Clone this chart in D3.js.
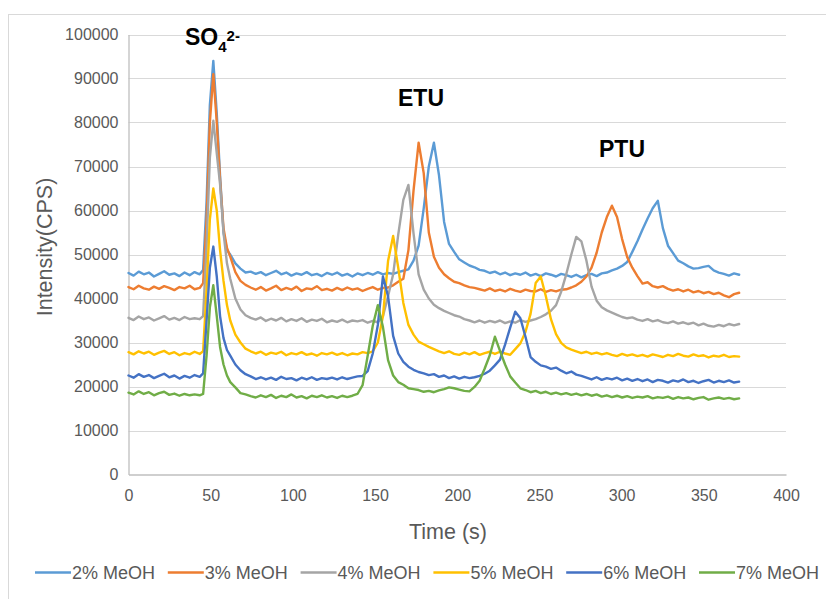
<!DOCTYPE html>
<html>
<head>
<meta charset="utf-8">
<script src="https://cdn.jsdelivr.net/npm/d3@7"></script>
<style>
  body { margin: 0; background: #fff; }
  svg { display: block; font-family: "Liberation Sans", Arial, sans-serif; }
</style>
</head>
<body>
<svg id="chart" width="826" height="599"></svg>
<script>
// sample times (s)
const time = [
  0, 3.1, 6.2, 9.3, 12.4, 15.5, 18.6, 21.7, 24.8, 27.9, 31.0, 34.1, 37.2, 40.2, 43.3,
  45.4, 47.5, 49.5, 51.6, 53.7, 55.7, 57.8, 59.9, 61.9,
  65.0, 68.1, 71.2, 74.3, 77.4, 80.5, 83.6, 86.7, 89.8, 92.9, 96.0, 99.1, 102.2, 105.3, 108.4, 111.5, 114.6, 117.6, 120.7, 123.8,
  126.9, 130.0, 133.1, 136.2, 139.3, 142.4, 145.5, 148.6, 151.7, 154.8, 157.9, 161.0, 164.1, 167.2, 170.3, 173.4, 176.5, 179.6, 182.7, 185.8,
  188.9, 192.0, 195.0, 198.1, 201.2, 204.3, 207.4, 210.5, 213.6, 216.7, 219.8, 222.9, 226.0, 229.1, 232.2, 235.3, 238.4, 241.5, 244.6, 247.7,
  250.8, 253.9, 257.0, 260.1, 263.2, 266.3, 269.4, 272.4, 275.5, 278.6, 281.7, 284.8, 287.9, 291.0, 294.1, 297.2, 300.3, 303.4, 306.5, 309.6,
  312.7, 315.8, 318.9, 322.0, 325.1, 328.2, 331.3, 334.4, 337.5, 340.6, 343.7, 346.8, 349.8, 352.9, 356.0, 359.1, 362.2, 365.3, 368.4, 371.5
];

// intensities, in thousands of CPS
const meoh2 = [
  45.8, 45.2, 46.1, 45.5, 45.9, 45.0, 45.6, 46.2, 45.4, 45.7, 45.1, 45.9, 45.3, 46.0, 45.5,
  46.5, 62.0, 84.0, 94.0, 82.0, 68.0, 55.0, 51.0, 50.0,
  48.0, 46.8, 45.9, 46.1, 45.6, 46.0, 45.3, 45.8, 46.3, 45.5, 45.9, 45.2, 45.7, 45.4, 46.0, 45.3, 45.6, 45.1, 45.8, 45.4,
  45.9, 45.2, 45.6, 45.0, 45.7, 45.3, 45.8, 45.4, 46.0, 45.5, 45.8, 45.6, 46.0, 46.3, 46.6, 48.6, 52.0, 60.5, 70.0, 75.4,
  68.0, 57.4, 52.4, 50.6, 48.9, 48.2, 47.5, 47.1, 46.5, 46.3, 45.8, 46.1, 45.5, 45.9, 45.3, 45.7, 45.4, 45.9, 45.2, 45.6,
  45.1, 45.7, 45.4, 45.0, 45.6, 45.3, 44.9, 45.4, 44.8, 45.3, 45.6, 45.1, 45.7, 45.9, 46.4, 46.8, 47.4, 48.3, 50.6, 53.0,
  55.7, 58.2, 60.5, 62.2, 56.0, 52.0, 50.3, 48.6, 48.0, 47.3, 46.8, 46.9, 47.2, 47.4, 46.4, 45.9, 45.6, 45.2, 45.7, 45.4
];
const meoh3 = [
  42.6, 42.1, 42.9, 42.3, 42.0, 42.7, 42.2, 42.8, 42.4, 41.9, 42.6, 42.3, 42.9, 42.1, 42.4,
  43.5, 58.0, 80.0, 91.0, 80.0, 67.0, 56.0, 51.5, 49.5,
  46.0, 44.0, 43.1, 42.5, 42.0, 42.6, 41.8, 42.3, 42.9, 41.9, 42.4, 42.0, 42.7, 41.7, 42.3, 42.1, 42.8, 41.9, 42.2, 41.8,
  42.4, 41.9, 42.5, 42.0, 42.3, 41.7, 42.2, 42.6, 42.0, 42.4, 42.5, 43.0, 43.8, 44.5, 51.0, 64.5, 75.4, 68.5, 55.0, 49.5,
  47.0, 45.5, 44.6, 43.8, 43.5, 43.0, 42.6, 42.4, 42.1, 41.8, 42.3, 41.7, 42.0, 41.6, 42.2, 41.8, 41.5, 42.0, 41.7, 41.6,
  42.1, 41.5, 41.9, 41.6, 42.0, 42.1, 42.5, 43.0, 43.8, 45.0, 47.0, 50.4, 55.0, 58.5, 61.1, 58.5, 53.5, 49.4, 47.0, 45.1,
  43.4, 43.7, 42.8, 42.5, 42.8, 42.2, 41.8, 42.1, 41.6, 42.0, 41.4, 41.7, 41.2, 41.5, 41.0, 41.3, 40.7, 40.3, 41.0, 41.3
];
const meoh4 = [
  35.6, 35.1, 35.9, 35.3, 35.7, 35.0, 35.5, 36.0, 35.2, 35.6, 35.1, 35.8, 35.3, 35.5, 35.3,
  36.0, 52.0, 72.0, 80.4, 73.0, 66.0, 55.0, 48.0, 44.5,
  40.0, 37.5, 36.2, 35.6, 35.2, 35.7, 34.9, 35.4, 35.0, 35.6, 34.8, 35.3, 34.9, 35.5, 34.7, 35.2, 34.9, 35.4, 34.6, 35.0,
  34.7, 35.2, 34.6, 35.0, 34.8, 35.1, 34.5, 34.9, 34.6, 36.0, 40.5, 45.5, 54.5, 62.4, 65.8, 54.8, 45.5, 42.0, 40.0, 38.6,
  37.8, 37.2, 36.7, 36.2, 35.9, 35.3, 35.0, 34.6, 35.0, 34.5, 34.9, 34.6, 35.0, 34.4, 34.8, 34.5, 35.1, 34.7, 35.0, 35.3,
  35.8, 36.4, 37.2, 38.5, 41.5, 45.5, 50.0, 54.0, 53.0, 48.6, 42.7, 39.5, 38.0, 37.3, 36.8, 36.3, 35.8, 35.5, 35.7, 35.2,
  34.9, 35.3, 34.8, 35.1, 34.6, 34.4, 34.8, 34.3, 34.6, 34.2, 34.5, 33.9, 34.3, 33.8, 33.6, 34.0, 33.7, 34.2, 33.9, 34.2
];
const meoh5 = [
  27.8, 27.3, 28.0, 27.5, 27.9, 27.2, 27.7, 28.1, 27.4, 27.8, 27.1, 27.6, 27.3, 27.9, 27.4,
  28.0, 42.0, 58.0, 65.0, 60.0, 51.0, 44.0, 38.5, 35.0,
  31.8, 30.0, 28.6, 28.0, 27.5, 27.9, 27.2, 27.7, 27.4, 27.9, 27.1, 27.6, 27.3, 27.8, 27.2, 27.5, 27.0, 27.6, 27.3, 27.7,
  27.2, 27.6, 27.1, 27.5, 27.3, 27.8, 27.6, 28.0, 30.0, 36.0, 48.5, 54.2, 47.0, 39.0, 34.0, 31.8, 30.2, 29.6, 29.0, 28.5,
  28.0, 27.6, 28.0, 27.4, 27.2, 27.7, 27.3, 27.8, 27.2, 27.6, 27.9, 27.4, 27.9, 27.5, 27.2, 28.5, 29.8, 32.4, 36.5, 43.5,
  45.0, 40.5, 35.3, 31.9, 29.9, 28.9, 28.4, 28.0, 27.6, 27.9, 27.4, 27.7, 27.3, 27.6, 27.2, 26.9, 27.4, 27.0, 27.3, 26.9,
  27.2, 26.8, 27.3, 27.0, 26.7, 27.2, 26.9, 27.4, 27.0, 26.8, 27.3, 26.9, 27.1, 26.6, 27.0, 26.8, 27.2, 26.7, 26.9, 26.8
];
const meoh6 = [
  22.5, 22.0, 22.8, 22.2, 22.6, 21.9, 22.4, 22.9, 22.1, 22.5, 21.8, 22.4, 22.0, 22.6, 22.2,
  23.0, 35.0, 47.0, 51.8, 45.0, 36.0, 31.0, 28.3, 27.0,
  25.0, 23.7, 22.8, 22.3, 21.7, 22.1, 21.6, 22.0, 21.5, 22.2, 21.7, 21.9, 21.4, 22.0, 21.6, 22.1, 21.5, 21.9, 21.7, 22.0,
  21.6, 22.1, 21.7, 22.0, 22.3, 22.4, 23.5, 27.5, 34.0, 45.0, 40.5, 31.5, 27.5, 25.6, 24.5, 23.8, 23.3, 23.0, 22.6, 22.8,
  22.2, 22.5, 21.9, 22.3, 21.8, 22.2, 21.9, 22.1, 22.4, 22.9, 23.6, 24.8, 26.1, 29.5, 33.4, 37.0, 35.5, 31.3, 26.7, 25.6,
  24.8, 24.5, 24.0, 24.3, 23.6, 23.0, 23.4, 22.7, 22.4, 22.0, 21.6, 22.1, 21.5, 21.9, 21.6, 22.0, 21.4, 21.8, 21.3, 21.7,
  21.2, 21.6, 21.0, 21.5, 21.3, 20.9, 21.4, 21.1, 21.6, 21.0, 21.3, 20.8, 21.2, 21.5, 20.9, 21.3, 21.0, 21.4, 20.9, 21.1
];
const meoh7 = [
  18.6, 18.2, 18.9, 18.3, 18.7, 18.0, 18.5, 18.8, 18.1, 18.4, 17.9, 18.3, 18.0, 18.2, 18.0,
  18.3, 27.0, 38.0, 43.0, 36.0, 29.0, 25.0, 22.5, 21.0,
  19.8, 18.5, 18.2, 17.8, 17.5, 18.0, 17.6, 18.1, 17.4, 17.9, 17.6, 18.2, 17.5, 17.8, 17.3, 17.9, 17.6, 18.0, 17.5, 17.8,
  17.4, 17.9, 17.6, 17.9, 18.3, 20.3, 27.0, 33.8, 38.5, 33.5, 26.0, 22.5, 21.0, 20.4, 19.6, 19.4, 19.2, 18.8, 19.0, 18.7,
  19.1, 19.4, 19.8, 19.6, 19.3, 19.0, 18.9, 19.9, 21.3, 24.1, 27.1, 31.3, 28.1, 25.0, 22.3, 20.9, 19.6, 19.2, 18.7, 19.0,
  18.5, 18.8, 18.3, 18.6, 18.2, 18.5, 18.1, 18.4, 18.0, 18.3, 17.9, 18.2, 17.7, 18.0, 17.6, 17.9, 17.5, 17.8, 17.4, 17.7,
  17.5, 17.8, 17.3, 17.6, 17.4, 17.7, 17.2, 17.6, 17.3, 17.5, 17.1, 17.4, 17.6, 17.0, 17.3, 17.5, 17.2, 17.4, 17.1, 17.3
];

const seriesNames = ["2% MeOH", "3% MeOH", "4% MeOH", "5% MeOH", "6% MeOH", "7% MeOH"];
const seriesValues = [meoh2, meoh3, meoh4, meoh5, meoh6, meoh7];
const seriesColors = ["#5b9bd5", "#ed7d31", "#a5a5a5", "#ffc000", "#4472c4", "#70ad47"];
const xTicks = [0, 50, 100, 150, 200, 250, 300, 350, 400];
const yTicks = [0, 10000, 20000, 30000, 40000, 50000, 60000, 70000, 80000, 90000, 100000];

const svg = d3.select("#chart");
const x = d3.scaleLinear().domain([0, 400]).range([128.5, 786]);
const y = d3.scaleLinear().domain([0, 100000]).range([474.5, 34.5]);

// chart area outline
svg.append("rect")
  .attr("x", 8.5).attr("y", 14.5).attr("width", 840).attr("height", 610)
  .attr("fill", "none").attr("stroke", "#d9d9d9");

// gridlines
svg.append("g")
  .selectAll("line")
  .data(yTicks.slice(1))
  .join("line")
  .attr("x1", x(0)).attr("x2", x(400))
  .attr("y1", d => Math.round(y(d)) + 0.5).attr("y2", d => Math.round(y(d)) + 0.5)
  .attr("stroke", "#d9d9d9").attr("stroke-width", 1);

// axes
const yAxis = svg.append("g")
  .attr("transform", `translate(${x(0)},0)`)
  .call(d3.axisLeft(y).tickValues(yTicks).tickSize(0).tickPadding(10).tickFormat(d => d));
const xAxis = svg.append("g")
  .attr("transform", `translate(0,${y(0)})`)
  .call(d3.axisBottom(x).tickValues(xTicks).tickSize(0).tickPadding(15.5));
[yAxis, xAxis].forEach(g => {
  g.select(".domain").attr("stroke", "#bfbfbf").attr("stroke-width", 1.3);
  g.selectAll("text")
    .attr("fill", "#595959")
    .style("font-size", "16px")
    .style("font-family", '"Liberation Sans", Arial, sans-serif');
});

// series lines
const line = d3.line()
  .x((d, i) => x(time[i]))
  .y(d => y(d * 1000));

svg.append("g")
  .selectAll("path")
  .data(seriesValues)
  .join("path")
  .attr("d", d => line(d))
  .attr("fill", "none")
  .attr("stroke", (d, i) => seriesColors[i])
  .attr("stroke-width", 2.4)
  .attr("stroke-linejoin", "round")
  .attr("stroke-linecap", "round");

// peak labels
const lab = svg.append("g").attr("font-weight", "bold").attr("fill", "#000");
const so4 = lab.append("text").attr("x", 185).attr("y", 45).style("font-size", "23px");
so4.append("tspan").text("SO");
so4.append("tspan").attr("dy", 6.5).style("font-size", "15px").text("4");
so4.append("tspan").attr("dy", -10.5).style("font-size", "15px").text("2-");
lab.append("text").attr("x", 398).attr("y", 106).style("font-size", "23px").text("ETU");
lab.append("text").attr("x", 599).attr("y", 156.5).style("font-size", "23px").text("PTU");

// axis titles
svg.append("text")
  .attr("x", 448).attr("y", 539)
  .attr("text-anchor", "middle")
  .attr("fill", "#595959")
  .style("font-size", "21.5px")
  .text("Time (s)");
svg.append("text")
  .attr("transform", "translate(52,247) rotate(-90)")
  .attr("text-anchor", "middle")
  .attr("fill", "#595959")
  .style("font-size", "21.5px")
  .text("Intensity(CPS)");

// legend
const legend = svg.append("g")
  .selectAll("g")
  .data(seriesNames)
  .join("g")
  .attr("transform", (d, i) => `translate(${35 + i * 132.8},572.5)`);
legend.append("line")
  .attr("x1", 0).attr("x2", 36)
  .attr("stroke", (d, i) => seriesColors[i])
  .attr("stroke-width", 2.5);
legend.append("text")
  .attr("x", 37).attr("y", 6.4)
  .attr("fill", "#595959")
  .style("font-size", "18px")
  .text(d => d);
</script>
</body>
</html>
